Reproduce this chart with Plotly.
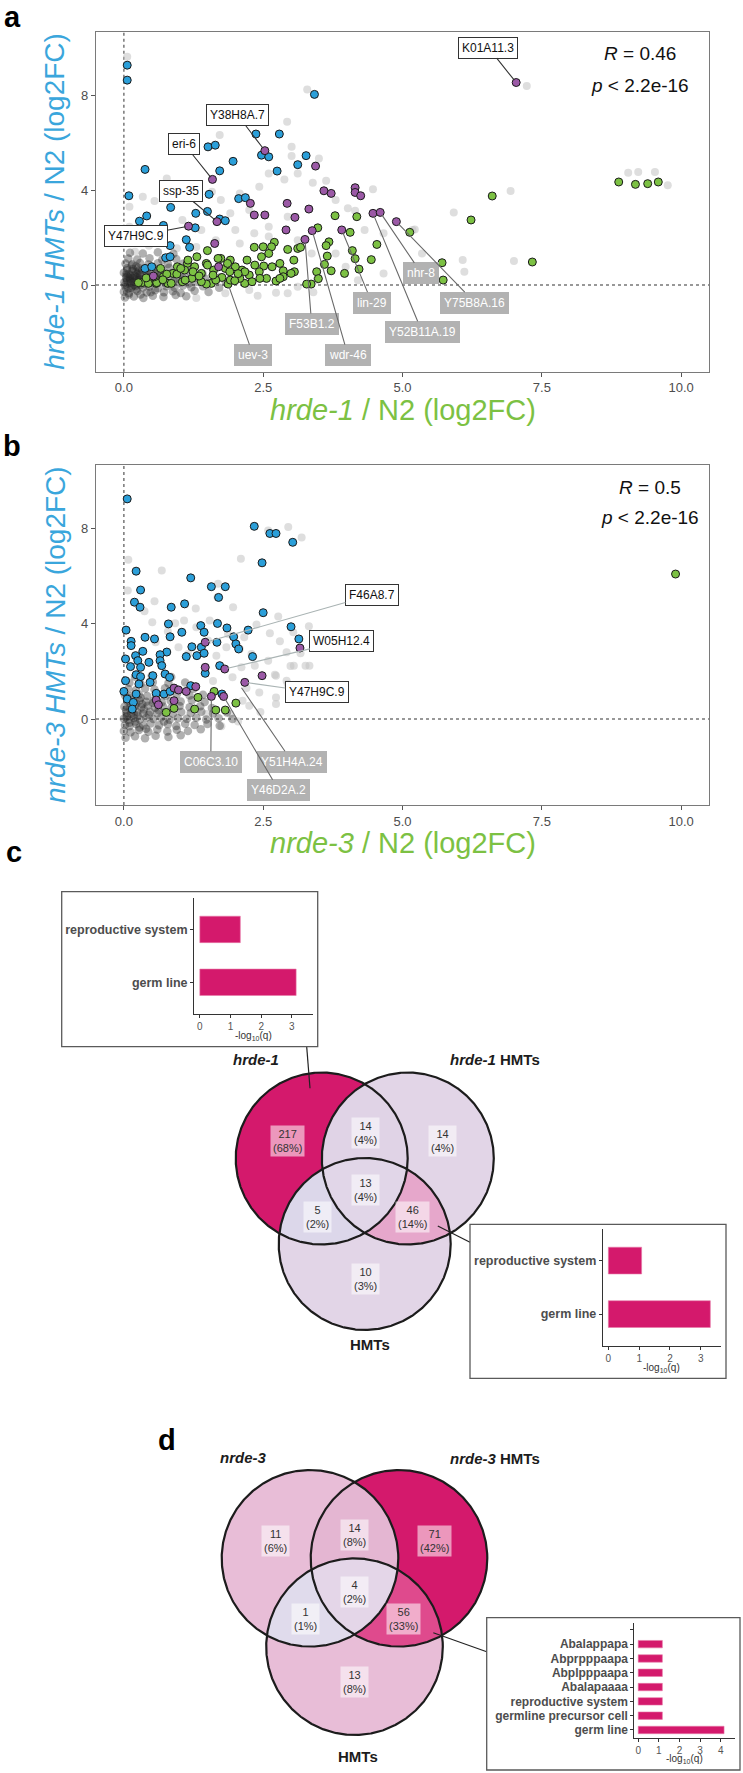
import numpy as np
import plotly.graph_objects as go

W, H = 743, 1773
FONT = "Liberation Sans, Arial, sans-serif"

def px(x):
    return x / W

def py(y):
    return 1 - y / H

# ---------------- DATA: panel a (hrde-1 vs hrde-1 HMTs, log2FC) ----------------
a_blue = [(0.06, 9.26), (0.06, 8.63), (3.42, 8.03), (2.37, 6.36), (2.79, 6.36), (1.51, 5.82), (1.64, 5.89),
          (2.47, 5.47), (2.60, 5.40), (3.27, 5.45), (3.12, 5.07), (1.96, 5.21), (1.72, 4.81), (2.75, 4.80),
          (0.38, 4.87), (0.09, 3.76), (1.53, 3.82), (2.06, 3.64), (2.18, 3.68), (0.84, 3.27), (1.50, 3.10),
          (1.29, 3.02), (0.41, 2.91), (0.28, 2.69), (0.71, 2.51), (1.28, 2.41), (1.72, 2.78), (1.82, 2.71),
          (1.12, 1.91), (0.83, 1.66), (1.18, 1.59), (0.75, 1.15), (0.83, 1.19), (0.38, 0.70), (0.50, 0.77)]
a_purple = [(7.04, 8.53), (2.53, 5.66), (3.44, 5.01), (1.59, 4.45), (3.59, 3.97), (3.72, 3.86), (4.15, 4.10),
            (4.15, 3.90), (4.25, 3.76), (2.27, 3.44), (2.93, 3.44), (2.34, 2.95), (2.53, 2.95), (3.32, 3.20),
            (3.07, 2.85), (4.47, 3.02), (4.60, 3.06), (4.89, 2.67), (3.91, 2.32), (2.91, 2.32), (3.25, 1.92),
            (3.38, 2.29), (1.67, 2.67), (1.16, 2.48), (1.63, 1.75), (1.70, 0.77), (0.53, 0.38)]
a_green = [(8.88, 4.34), (9.18, 4.24), (9.40, 4.27), (9.59, 4.34), (6.61, 3.75), (6.23, 2.74), (7.33, 0.97),
           (5.13, 2.22), (5.71, 0.94), (5.73, 0.21), (3.79, 2.92), (4.18, 2.88), (4.06, 2.22), (4.54, 1.71),
           (4.10, 1.45), (4.15, 1.11), (4.44, 1.07), (4.22, 0.67), (3.96, 0.49), (3.68, 1.82), (3.63, 1.66),
           (3.65, 1.22), (3.60, 0.87), (3.72, 0.60), (3.46, 0.56), (3.48, 2.41), (3.36, 0.04), (3.49, 0.27),
           (3.12, 1.54), (3.17, 1.59), (2.94, 1.50), (3.05, 1.05), (3.06, 0.56), (2.70, 1.80), (2.65, 1.61),
           (2.50, 1.61), (2.34, 1.59), (2.60, 1.33), (2.47, 1.19), (2.80, 0.91), (2.66, 0.77), (2.51, 0.80),
           (2.86, 0.60), (2.86, 0.35), (2.73, 0.17), (2.56, 0.28), (2.43, 0.56), (2.25, 0.42), (2.21, 1.05),
           (2.12, 0.63), (2.17, 0.07), (2.00, 0.77), (1.91, 1.05), (1.82, 0.70), (1.74, 1.12), (1.76, 0.32),
           (1.61, 0.63), (1.57, 0.07), (1.50, 1.45), (1.48, 0.91), (1.39, 0.49), (1.31, 1.19), (1.27, 0.77),
           (1.22, 0.28), (1.14, 0.91), (1.09, 0.63), (1.05, 0.14), (0.96, 0.77), (0.88, 0.49), (0.79, 0.07),
           (0.71, 0.35), (0.66, 0.70), (0.58, 0.07), (0.45, 0.14), (0.32, 0.10), (1.87, 0.04), (1.48, 0.04),
           (1.39, 0.14), (1.65, 0.21), (2.08, 0.28), (1.91, 0.21), (2.30, 0.14), (0.77, 0.46), (0.95, 0.46),
           (1.02, 0.70), (1.10, 0.21), (1.15, 1.05), (1.24, 0.56), (1.50, 0.84), (1.69, 1.12), (1.86, 0.91),
           (1.90, 0.56), (1.99, 0.18), (2.17, 0.56), (2.35, 0.84), (2.44, 0.28), (2.80, 0.28), (3.00, 0.49),
           (3.28, 0.04), (0.26, 0.10), (0.44, 0.07), (0.59, 0.10), (0.85, 0.07), (0.55, 0.35), (0.40, 0.30),
           (0.70, 0.22), (1.35, 0.38), (1.60, 0.42), (2.05, 0.48)]
a_light = [(0.06, 9.61), (7.23, 8.38), (3.29, 8.24), (2.93, 6.88), (1.72, 6.32), (3.01, 5.82), (3.50, 5.33),
           (3.01, 5.43), (2.88, 4.45), (3.39, 4.31), (3.63, 4.39), (9.05, 4.73), (9.23, 4.76), (9.53, 4.76),
           (9.76, 4.20), (6.94, 3.96), (5.92, 3.06), (7.00, 1.01), (6.11, 0.56), (5.22, 2.34), (4.47, 4.03),
           (4.15, 3.13), (0.77, 4.49), (0.55, 3.54), (0.34, 3.72), (0.10, 3.30), (1.58, 3.93), (1.74, 3.58),
           (2.08, 3.86), (2.43, 4.14), (2.60, 4.70), (3.12, 4.70), (3.80, 3.58), (4.02, 3.23), (4.32, 2.32),
           (4.66, 2.18), (5.18, 2.32), (5.35, 1.33), (6.08, 1.05), (3.80, 1.33), (3.37, 1.33), (3.98, 0.77),
           (4.66, 0.49), (5.18, 0.63), (3.12, -0.07), (2.73, -0.32), (2.25, -0.21), (1.82, -0.35), (2.94, -0.35),
           (3.46, 0.21), (1.05, 2.74), (1.39, 2.32), (2.00, 2.32), (2.34, 2.18), (2.60, 2.46), (2.94, 2.88),
           (2.25, 3.16), (1.91, 3.02), (0.36, 2.18), (0.62, 1.89), (1.65, 1.89), (2.08, 1.75), (2.60, 2.04),
           (3.12, 1.89), (0.10, 1.89), (0.10, 2.46), (0.20, 1.40), (0.45, 1.65), (0.95, 1.55), (1.30, 1.60),
           (2.40, -0.45), (1.30, -0.55), (3.40, -0.30), (4.20, 0.20)]
a_cloud = [(0.02, -0.52), (0.18, -0.48), (0.35, -0.55), (0.52, -0.45), (0.71, -0.50), (0.93, -0.42),
           (1.12, -0.47), (0.00, -0.28), (0.09, -0.33), (0.24, -0.25), (0.41, -0.31), (0.56, -0.22),
           (0.72, -0.30), (0.88, -0.26), (1.02, -0.34), (1.27, -0.24), (1.52, -0.29), (0.03, -0.08),
           (0.13, -0.12), (0.21, -0.04), (0.34, -0.10), (0.46, -0.06), (0.61, -0.13), (0.76, -0.05),
           (0.91, -0.10), (1.06, -0.02), (1.21, -0.09), (1.42, -0.05), (1.71, -0.11), (0.01, 0.12),
           (0.07, 0.06), (0.17, 0.14), (0.27, 0.08), (0.37, 0.16), (0.49, 0.10), (0.63, 0.13), (0.75, 0.07),
           (0.89, 0.15), (1.01, 0.11), (1.16, 0.06), (1.31, 0.14), (1.52, 0.09), (1.83, 0.12), (0.04, 0.31),
           (0.11, 0.27), (0.23, 0.34), (0.31, 0.28), (0.43, 0.33), (0.53, 0.26), (0.67, 0.31), (0.81, 0.35),
           (0.96, 0.28), (1.09, 0.33), (1.27, 0.30), (1.46, 0.26), (1.72, 0.32), (0.00, 0.52), (0.09, 0.47),
           (0.21, 0.55), (0.29, 0.49), (0.41, 0.53), (0.56, 0.46), (0.69, 0.54), (0.86, 0.50), (1.01, 0.47),
           (1.19, 0.55), (1.41, 0.49), (0.06, 0.71), (0.16, 0.68), (0.26, 0.74), (0.39, 0.69), (0.53, 0.72),
           (0.65, 0.66), (0.81, 0.73), (0.99, 0.69), (1.24, 0.71), (0.03, 0.91), (0.15, 0.88), (0.29, 0.93),
           (0.44, 0.87), (0.61, 0.92), (0.79, 0.89), (1.06, 0.90), (0.08, 1.12), (0.24, 1.08), (0.46, 1.13),
           (0.69, 1.07), (0.94, 1.10), (0.11, 1.36), (0.34, 1.33), (0.61, 1.38), (0.89, 1.32), (0.05, 0.20),
           (0.12, 0.40), (0.20, 0.22), (0.28, 0.42), (0.15, 0.58), (0.33, 0.62), (0.08, -0.15), (0.18, 0.00),
           (0.25, 0.20), (0.10, 0.30), (0.38, 0.05), (0.22, -0.18), (0.45, 0.42), (0.14, 0.82), (0.30, 0.00),
           (0.04, 0.44), (0.17, 0.30), (0.26, 0.60), (0.36, 0.25), (0.06, 0.62), (0.13, 0.10), (0.40, 0.58),
           (0.50, 0.20), (0.22, 0.78), (0.09, -0.40), (0.30, -0.40), (0.48, -0.30), (0.60, 0.60), (0.02, 0.0),
           (0.11, 0.18), (0.19, 0.40), (0.27, 0.26), (0.07, 0.36), (0.33, 0.12), (0.15, -0.05), (0.24, 0.48)]

# labelled genes in panel a: name, point (x, y), style
a_lab_names = ["K01A11.3", "Y38H8A.7", "eri-6", "ssp-35", "Y47H9C.9",
               "nhr-8", "Y75B8A.16", "Y52B11A.19", "lin-29", "F53B1.2", "wdr-46", "uev-3"]
a_lab_pts = [(7.04, 8.53), (2.53, 5.66), (1.59, 4.45), (1.67, 2.67), (1.16, 2.48),
             (4.60, 3.06), (4.89, 2.67), (4.47, 3.02), (3.91, 2.32), (3.25, 1.92), (3.38, 2.29), (1.87, 0.04)]
a_lab_kind = ["w", "w", "w", "w", "w", "g", "g", "g", "g", "g", "g", "g"]

# ---------------- DATA: panel b (nrde-3 vs nrde-3 HMTs) ----------------
b_blue = [(0.06, 9.23), (2.34, 8.08), (2.62, 7.78), (2.73, 7.78), (3.03, 7.41), (2.48, 6.55), (0.22, 6.20),
          (1.20, 5.92), (0.30, 5.41), (1.57, 5.55), (1.82, 5.55), (1.70, 5.10), (0.19, 4.90), (0.29, 4.69),
          (1.09, 4.83), (0.85, 4.69), (2.50, 4.46), (0.04, 3.73), (0.80, 3.99), (1.38, 3.92), (1.68, 4.01),
          (1.85, 3.82), (1.04, 3.64), (0.83, 3.45), (1.44, 3.64), (2.23, 3.73), (3.00, 3.87), (3.14, 3.36),
          (0.38, 3.43), (0.55, 3.36), (0.13, 3.26), (0.13, 3.08), (1.97, 3.45), (2.01, 3.15), (2.06, 2.94),
          (1.67, 3.22), (1.22, 3.03), (1.39, 3.01), (0.34, 2.84), (0.77, 2.81), (0.65, 2.70), (0.03, 2.52),
          (0.21, 2.66), (1.31, 2.66), (1.44, 2.76), (1.12, 2.62), (0.65, 2.45), (0.25, 2.45), (0.45, 2.38),
          (2.31, 2.62), (0.12, 2.20), (0.30, 2.17), (0.68, 2.24), (1.72, 2.24), (1.76, 1.05), (0.22, 1.86),
          (0.30, 1.78), (0.52, 1.82), (0.74, 1.89), (0.03, 1.61), (0.27, 1.47), (0.47, 1.54), (1.46, 1.92),
          (0.82, 1.75), (0.00, 1.16), (0.58, 1.08), (0.72, 1.05), (0.83, 1.16), (0.06, 0.84), (0.17, 0.70),
          (0.15, 0.42), (0.22, 1.05), (1.20, 1.40)]
b_purple = [(1.46, 3.22), (1.46, 2.17), (1.81, 2.10), (3.16, 2.98), (2.48, 1.82), (2.17, 1.54), (0.90, 1.30),
            (0.98, 1.22), (1.12, 1.16), (1.29, 1.36), (1.57, 0.95), (1.79, 0.95), (0.58, 0.80), (0.62, 0.60),
            (0.90, 0.77)]
b_green = [(9.90, 6.08), (1.62, 1.16), (1.33, 0.91), (2.01, 0.67), (0.76, 0.28), (0.90, 0.45), (1.27, 0.42),
           (1.65, 0.38), (1.82, 0.38)]
b_light = [(0.08, 6.68), (0.68, 6.23), (0.07, 5.39), (0.55, 4.94), (0.37, 4.52), (2.10, 6.72), (2.59, 7.91),
           (2.95, 8.05), (3.19, 7.61), (1.29, 4.64), (1.69, 5.67), (1.68, 5.11), (1.96, 4.69), (2.77, 4.30),
           (0.51, 4.06), (0.92, 4.02), (1.08, 4.13), (1.54, 4.13), (2.38, 3.96), (2.62, 3.60), (2.80, 3.26),
           (3.04, 3.64), (3.32, 3.89), (2.92, 2.80), (3.17, 2.76), (3.26, 2.24), (2.99, 2.23), (2.71, 1.86),
           (2.92, 1.61), (1.30, 3.85), (1.87, 3.57), (2.16, 3.43), (0.79, 3.67), (0.57, 3.22), (1.51, 3.29),
           (1.84, 3.01), (2.08, 2.94), (2.29, 2.73), (0.98, 3.01), (1.15, 2.73), (1.66, 2.66), (2.59, 2.45),
           (2.35, 2.24), (2.11, 2.17), (2.73, 0.91), (2.73, 0.63), (2.94, 1.47), (3.33, 2.24), (3.05, 2.24),
           (2.73, 1.82), (2.43, 1.12), (2.13, 0.77), (2.25, 0.56), (1.48, 0.21), (1.91, 0.21), (1.95, 1.75),
           (2.20, 1.30), (1.60, 1.60), (2.45, 0.30), (1.75, -0.30), (2.05, -0.10)]
b_cloud = [(0.03, -0.78), (0.20, -0.72), (0.38, -0.80), (0.57, -0.70), (0.80, -0.75), (1.02, -0.68),
           (0.00, -0.50), (0.12, -0.55), (0.27, -0.46), (0.44, -0.53), (0.60, -0.44), (0.78, -0.52),
           (0.95, -0.45), (1.15, -0.50), (1.38, -0.42), (0.02, -0.25), (0.10, -0.30), (0.22, -0.20),
           (0.35, -0.27), (0.48, -0.18), (0.63, -0.26), (0.79, -0.21), (0.94, -0.29), (1.10, -0.19),
           (1.27, -0.25), (1.50, -0.20), (1.72, -0.28), (0.00, 0.02), (0.08, -0.04), (0.18, 0.05),
           (0.29, -0.02), (0.40, 0.06), (0.53, 0.00), (0.67, 0.07), (0.82, -0.03), (0.97, 0.04), (1.13, 0.01),
           (1.30, 0.06), (1.48, -0.02), (1.70, 0.04), (1.95, 0.00), (0.04, 0.27), (0.13, 0.22), (0.24, 0.30),
           (0.35, 0.24), (0.47, 0.31), (0.60, 0.25), (0.74, 0.29), (0.88, 0.22), (1.03, 0.30), (1.20, 0.26),
           (1.39, 0.31), (1.60, 0.24), (1.85, 0.28), (0.01, 0.52), (0.10, 0.47), (0.20, 0.55), (0.31, 0.49),
           (0.43, 0.56), (0.56, 0.48), (0.70, 0.53), (0.85, 0.47), (1.00, 0.55), (1.18, 0.50), (1.37, 0.54),
           (1.58, 0.47), (0.06, 0.76), (0.17, 0.72), (0.28, 0.79), (0.40, 0.73), (0.54, 0.78), (0.68, 0.71),
           (0.84, 0.77), (1.02, 0.74), (1.22, 0.79), (1.45, 0.72), (0.02, 1.00), (0.14, 0.96), (0.27, 1.03),
           (0.42, 0.97), (0.58, 1.02), (0.75, 0.98), (0.95, 1.04), (1.18, 0.99), (1.42, 1.02), (0.08, 1.26),
           (0.22, 1.22), (0.38, 1.28), (0.55, 1.24), (0.74, 1.29), (0.97, 1.23), (1.25, 1.27), (0.10, 1.52),
           (0.30, 1.48), (0.52, 1.55), (0.80, 1.50), (1.10, 1.53), (0.20, 1.78), (0.50, 1.82), (0.85, 1.76),
           (0.06, 0.12), (0.15, 0.38), (0.25, 0.15), (0.33, 0.62), (0.12, 0.66), (0.45, 0.18), (0.20, -0.10),
           (0.36, 0.40), (0.08, 0.88), (0.52, 0.68), (0.62, 0.38), (0.28, -0.35), (0.72, -0.10),
           (0.04, 0.40), (0.18, 0.20), (0.30, 0.90), (0.10, -0.15), (0.40, -0.40), (0.22, 0.64), (0.05, 0.10)]

b_lab_names = ["F46A8.7", "W05H12.4", "Y47H9C.9", "C06C3.10", "Y51H4A.24", "Y46D2A.2"]
b_lab_pts = [(1.46, 3.22), (1.81, 2.10), (2.17, 1.54), (1.57, 0.95), (2.08, 1.42), (1.79, 0.95)]
b_lab_kind = ["w", "w", "w", "g", "g", "g"]

stats_a = ("0.46", "2.2e-16")
stats_b = ("0.5", "2.2e-16")

x_ticks = [0, 2.5, 5.0, 7.5, 10.0]
y_ticks = [0, 4, 8]

# ---------------- DATA: Venn diagrams ----------------
venn_c_sets = ["<i>hrde-1</i>", "<i>hrde-1</i> HMTs", "HMTs"]
venn_d_sets = ["<i>nrde-3</i>", "<i>nrde-3</i> HMTs", "HMTs"]
region_keys = ["A", "AB", "B", "ABC", "AC", "BC", "C"]
venn_c_counts = [217, 14, 14, 13, 5, 46, 10]
venn_c_pct = [68, 4, 4, 4, 2, 14, 3]
venn_d_counts = [11, 14, 71, 4, 1, 56, 13]
venn_d_pct = [6, 8, 42, 2, 1, 33, 8]

# ---------------- DATA: enrichment insets (-log10 q) ----------------
enr_c1_terms = ["germ line", "reproductive system"]
enr_c1_vals = [3.14, 1.32]
enr_c2_terms = ["germ line", "reproductive system"]
enr_c2_vals = [3.31, 1.08]
enr_d_terms = ["germ line", "germline precursor cell", "reproductive system", "Abalapaaaa",
               "Abplpppaapa", "Abprpppaapa", "Abalappapa"]
enr_d_vals = [4.16, 1.17, 1.17, 1.17, 1.17, 1.17, 1.17]

# ---------------- styles ----------------
BLUE = "#2b9fd9"
PURPLE = "#9b59a6"
GREEN = "#7cc143"
MAG = "#d4196c"
TICKC = "#4d4d4d"

fig = go.Figure()

def unz(pts):
    return [p[0] for p in pts], [p[1] for p in pts]

def scatter_panel(n, light, cloud, green, blue, purple):
    xa, ya = ("x", "y") if n == 1 else ("x%d" % n, "y%d" % n)
    x, y = unz(light)
    fig.add_trace(go.Scatter(x=x, y=y, mode="markers", xaxis=xa, yaxis=ya, hoverinfo="skip",
                             marker=dict(size=8, color="rgba(195,195,195,0.55)", line=dict(width=0))))
    x, y = unz(cloud)
    fig.add_trace(go.Scatter(x=x, y=y, mode="markers", xaxis=xa, yaxis=ya, hoverinfo="skip",
                             marker=dict(size=8.5, color="rgba(35,35,35,0.36)", line=dict(width=0))))
    for pts, col in ((green, GREEN), (blue, BLUE), (purple, PURPLE)):
        x, y = unz(pts)
        fig.add_trace(go.Scatter(x=x, y=y, mode="markers", xaxis=xa, yaxis=ya,
                                 marker=dict(size=8, color=col, line=dict(width=1, color="#1a1a1a"))))

scatter_panel(1, a_light, a_cloud, a_green, a_blue, a_purple)
scatter_panel(2, b_light, b_cloud, b_green, b_blue, b_purple)

annotations = []
shapes = []

def note(x, y, text, size, color="#111", xref="paper", yref="paper", **kw):
    if xref == "paper":
        x = px(x)
    if yref == "paper":
        y = py(y)
    d = dict(x=x, y=y, xref=xref, yref=yref, showarrow=False, text=text, xanchor="center", yanchor="middle",
             font=dict(size=size, color=color, family=FONT))
    d.update(kw)
    annotations.append(d)

def labels(n, names, pts, kinds, offsets, wline):
    xr, yr = ("x", "y") if n == 1 else ("x%d" % n, "y%d" % n)
    for name, (x, y), k, (lx, ly) in zip(names, pts, kinds, offsets):
        if k == "w":
            st = dict(bgcolor="white", bordercolor="#333333", font=dict(size=12, color="#111", family=FONT),
                      arrowcolor=wline)
        else:
            st = dict(bgcolor="#b2b2b2", bordercolor="#b2b2b2", font=dict(size=12, color="white", family=FONT),
                      arrowcolor="#6a6a6a")
        annotations.append(dict(x=x, y=y, xref=xr, yref=yr, ax=lx, ay=ly, axref=xr, ayref=yr, text=name,
                                showarrow=True, arrowhead=0, arrowwidth=1.1, standoff=3, borderwidth=1,
                                borderpad=3, **st))

# label placements (layout)
a_lab_pos = [(6.54, 10.0), (2.04, 7.16), (1.08, 5.94), (1.02, 3.96), (0.21, 2.06), (5.34, 0.49),
             (6.30, -0.74), (5.35, -1.97), (4.45, -0.74), (3.37, -1.64), (4.02, -2.95), (2.32, -2.95)]
b_lab_pos = [(4.45, 5.20), (3.91, 3.26), (3.46, 1.12), (1.56, -1.79), (3.02, -1.79), (2.78, -2.98)]
labels(1, a_lab_names, a_lab_pts, a_lab_kind, a_lab_pos, "#333333")
labels(2, b_lab_names, b_lab_pts, b_lab_kind, b_lab_pos, "#a9b3b3")

# reference dotted lines at 0
for n in (1, 2):
    xr, yr = ("x", "y") if n == 1 else ("x%d" % n, "y%d" % n)
    shapes.append(dict(type="line", xref=xr, yref=yr + " domain", x0=0, x1=0, y0=0, y1=1,
                       line=dict(color="#777", width=1.5, dash="dot"), layer="below"))
    shapes.append(dict(type="line", xref=xr + " domain", yref=yr, x0=0, x1=1, y0=0, y1=0,
                       line=dict(color="#777", width=1.5, dash="dot"), layer="below"))

# stats text
for (R, p), (cx, y1, y2) in ((stats_a, (640, 53, 85)), (stats_b, (650, 487, 518))):
    note(cx, y1, "<i>R</i> = %s" % R, 19)
    note(cx, y2, "<i>p</i> &lt; %s" % p, 19)

# axis titles
for xt, yt, ycx, ycy in (("<i>hrde-1</i> / N2 (log2FC)", "<i>hrde-1 HMTs</i> / N2 (log2FC)", 410, 201.7),
                         ("<i>nrde-3</i> / N2 (log2FC)", "<i>nrde-3 HMTs</i> / N2 (log2FC)", 843, 635)):
    note(402.5, ycx, xt, 29, color="#7cc143")
    note(55, ycy, yt, 28, color="#3aa6dc", textangle=-90)

# panel letters
for t, (x, y) in zip("abcd", [(12, 17), (12, 446), (14, 852), (167, 1440)]):
    note(x, y, "<b>%s</b>" % t, 29, color="black")

# ---------------- Venn diagrams (pixel-scaled axis x3/y3) ----------------
def ring(cx, cy, r, n=720):
    t = np.linspace(0, 2 * np.pi, n + 1)
    return cx + r * np.cos(t), cy + r * np.sin(t)

def intersect(circles, n=1440):
    P = []
    for i, (cx, cy, r) in enumerate(circles):
        t = np.linspace(0, 2 * np.pi, n, endpoint=False)
        x = cx + r * np.cos(t)
        y = cy + r * np.sin(t)
        m = np.ones(n, bool)
        for j, (ox, oy, orr) in enumerate(circles):
            if j != i:
                m &= (x - ox) ** 2 + (y - oy) ** 2 <= orr * orr * (1 + 1e-9)
        P.append(np.c_[x[m], y[m]])
    P = np.vstack(P)
    c = P.mean(axis=0)
    P = P[np.argsort(np.arctan2(P[:, 1] - c[1], P[:, 0] - c[0]))]
    P = np.r_[P, P[:1]]
    return P[:, 0], P[:, 1]

def venn(centres, r, colours, counts, pcts, lab_pos, sets, set_pos):
    A, B, C = [(cx, cy, r) for cx, cy in centres]
    combos = [("A", [A]), ("B", [B]), ("C", [C]), ("AB", [A, B]), ("AC", [A, C]), ("BC", [B, C]),
              ("ABC", [A, B, C])]
    for key, cs in combos:
        x, y = intersect(cs)
        fig.add_trace(go.Scatter(x=x, y=y, mode="lines", fill="toself", fillcolor=colours[key],
                                 line=dict(width=0.5, color=colours[key]), xaxis="x3", yaxis="y3",
                                 hoverinfo="skip"))
    for cx, cy in centres:
        x, y = ring(cx, cy, r)
        fig.add_trace(go.Scatter(x=x, y=y, mode="lines", line=dict(width=2.2, color="#1c1c1c"),
                                 xaxis="x3", yaxis="y3", hoverinfo="skip"))
    for key, cnt, pc in zip(region_keys, counts, pcts):
        x, y = lab_pos[key]
        note(x, y, "%d<br>(%d%%)" % (cnt, pc), 11, color="#333", xref="x3", yref="y3",
             bgcolor="rgba(255,255,255,0.55)", borderpad=2)
    for s, (x, y) in zip(sets, set_pos):
        note(x, y, "<b>%s</b>" % s, 15, color="#1c1c1c", xref="x3", yref="y3")

venn(centres=[(321.7, 1158.5), (407.8, 1158.5), (364.7, 1244.0)], r=86,
     colours={"A": MAG, "B": "#e2d5e7", "C": "#e2d5e7", "AB": "#e0d3e6", "AC": "#dcd7ea",
              "BC": "#e6a7cb", "ABC": "#e1d6e8"},
     counts=venn_c_counts, pcts=venn_c_pct,
     lab_pos={"A": (287.5, 1141), "AB": (365, 1133), "B": (442, 1141), "ABC": (365, 1190),
              "AC": (317, 1217), "BC": (412.5, 1217), "C": (365, 1279)},
     sets=venn_c_sets, set_pos=[(255.5, 1059), (495, 1059), (370, 1344)])

venn(centres=[(310.0, 1558.3), (399.0, 1558.3), (354.5, 1646.7)], r=88.3,
     colours={"A": "#e8bdd7", "B": MAG, "C": "#e8bdd7", "AB": "#e4b6d2", "AC": "#e0dbec",
              "BC": "#df4a8d", "ABC": "#e4d6e8"},
     counts=venn_d_counts, pcts=venn_d_pct,
     lab_pos={"A": (275, 1541), "AB": (354.3, 1535), "B": (434.3, 1541), "ABC": (354.3, 1592),
              "AC": (305, 1619), "BC": (403.3, 1619), "C": (354.3, 1682)},
     sets=venn_d_sets, set_pos=[(243.3, 1457), (495, 1458), (358, 1756)])

# connector lines (inset -> region)
for (x0, y0), (x1, y1) in [((306.7, 1046.7), (310, 1088.3)), ((437.8, 1226), (470, 1242.3)),
                           ((433.3, 1632.7), (486.7, 1651.7))]:
    fig.add_trace(go.Scatter(x=[x0, x1], y=[y0, y1], mode="lines", line=dict(width=1.2, color="#222"),
                             xaxis="x3", yaxis="y3", hoverinfo="skip"))

# ---------------- enrichment insets ----------------
def inset(n, terms, vals, bw):
    ypos = list(range(len(terms)))
    fig.add_trace(go.Bar(x=vals, y=ypos, orientation="h", width=bw, xaxis="x%d" % n, yaxis="y%d" % n,
                         marker=dict(color=MAG, line=dict(width=0.6, color="#e77aa8"))))

inset(4, enr_c1_terms, enr_c1_vals, 0.5)
inset(5, enr_c2_terms, enr_c2_vals, 0.5)
inset(6, enr_d_terms, enr_d_vals, 0.52)

for (x0, y0, x1, y1) in [(61.7, 891.7, 317.7, 1046.7), (470, 1224.3, 726, 1378.3), (486.7, 1617.7, 740, 1770)]:
    shapes.append(dict(type="rect", xref="paper", yref="paper", x0=px(x0), x1=px(x1), y0=py(y1), y1=py(y0),
                       line=dict(color="#5a5a5a", width=1.3), fillcolor="rgba(0,0,0,0)"))

for (cx, cy) in [(253.3, 1036), (661.8, 1367.5), (684.3, 1758.5)]:
    note(cx, cy, "-log<sub>10</sub>(q)", 10, color="#333")

def scatter_axes(dom_y, yr):
    xa = dict(domain=[px(96), px(709)], range=[-0.5, 10.5], tickvals=x_ticks, ticktext=["%.1f" % v for v in x_ticks],
              showline=True, mirror=True, linecolor="#7a7a7a", linewidth=1.3, ticks="outside", ticklen=4,
              tickcolor="#555", showgrid=False, zeroline=False, tickfont=dict(size=13, color=TICKC, family=FONT))
    ya = dict(domain=dom_y, range=yr, tickvals=y_ticks, showline=True, mirror=True, linecolor="#7a7a7a",
              linewidth=1.3, ticks="outside", ticklen=4, tickcolor="#555", showgrid=False, zeroline=False,
              tickfont=dict(size=13, color=TICKC, family=FONT))
    return xa, ya

xa1, ya1 = scatter_axes([py(371.7), py(31.7)], [-3.65, 10.67])
xa2, ya2 = scatter_axes([py(805), py(465)], [-3.6, 10.65])
xa1["anchor"] = "y"; ya1["anchor"] = "x"
xa2["anchor"] = "y2"; ya2["anchor"] = "x2"

def inset_axes(n, xd, yd, xr, yr, nt, terms, lab_size, extra_tick=False):
    tv = list(range(len(terms)))
    tt = list(terms)
    if extra_tick:
        tv.append(len(terms))
        tt.append(" ")
    xa = dict(domain=[px(xd[0]), px(xd[1])], range=xr, anchor="y%d" % n, tickvals=list(range(nt)),
              showline=True, linecolor="#333", linewidth=1, ticks="outside", ticklen=3, tickcolor="#333",
              showgrid=False, zeroline=False, tickfont=dict(size=10, color="#555", family=FONT))
    ya = dict(domain=[py(yd[1]), py(yd[0])], range=yr, anchor="x%d" % n, tickvals=tv, ticktext=tt,
              showline=True, linecolor="#333", linewidth=1, ticks="outside", ticklen=3, tickcolor="#333",
              showgrid=False, zeroline=False,
              tickfont=dict(size=lab_size, color="#4d4d4d", family=FONT, weight="bold"))
    return xa, ya

xa4, ya4 = inset_axes(4, (194, 313.3), (897.7, 1014), [-0.19, 3.7], [-0.6, 1.6], 4, enr_c1_terms, 12.5)
xa5, ya5 = inset_axes(5, (602.8, 720.8), (1229, 1345.7), [-0.18, 3.65], [-0.59, 1.59], 4, enr_c2_terms, 12.5)
xa6, ya6 = inset_axes(6, (634.3, 735), (1622.7, 1737.7), [-0.19, 4.69], [-0.54, 7.5], 5, enr_d_terms, 12,
                      True)

fig.update_layout(
    width=W, height=H, margin=dict(l=0, r=0, t=0, b=0), paper_bgcolor="white", plot_bgcolor="white",
    showlegend=False, font=dict(family=FONT),
    xaxis=xa1, yaxis=ya1, xaxis2=xa2, yaxis2=ya2,
    xaxis3=dict(domain=[0, 1], range=[0, W], visible=False, anchor="y3", fixedrange=True),
    yaxis3=dict(domain=[0, py(840)], range=[H, 840], visible=False, anchor="x3", fixedrange=True),
    xaxis4=xa4, yaxis4=ya4, xaxis5=xa5, yaxis5=ya5, xaxis6=xa6, yaxis6=ya6,
    annotations=annotations, shapes=shapes,
)

fig.write_html("out.html")
